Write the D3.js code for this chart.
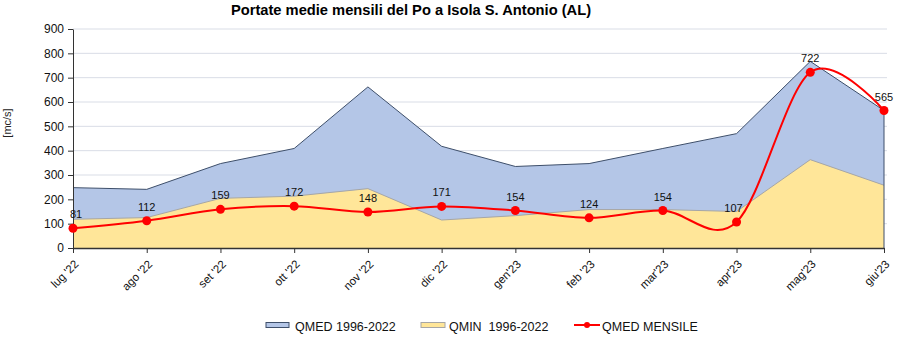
<!DOCTYPE html>
<html>
<head>
<meta charset="utf-8">
<script src="https://cdn.jsdelivr.net/npm/d3@7"></script>
<style>
  body { margin: 0; background: #fff; }
  svg { display: block; font-family: "Liberation Sans", Arial, sans-serif; }
</style>
</head>
<body>
<svg id="chart" width="903" height="339"></svg>
<script>
// monthly discharge, Po at Isola S. Antonio
const months = ["lug '22", "ago '22", "set '22", "ott '22", "nov '22", "dic '22",
                "gen'23", "feb '23", "mar'23", "apr'23", "mag'23", "giu'23"];
const qmed = [248, 241, 347, 409, 662, 418, 335, 347, 409, 470, 767, 565];
const qmin = [118, 125, 204, 213, 244, 115, 133, 158, 158, 150, 363, 258];
const qmedMensile = [81, 112, 159, 172, 148, 171, 154, 124, 154, 107, 722, 565];
const yTicks = [0, 100, 200, 300, 400, 500, 600, 700, 800, 900];

const svg = d3.select("#chart");
const margin = { left: 73, right: 19, top: 29, bottom: 91 };
const W = 903, H = 339;

const x = d3.scalePoint().domain(months).range([margin.left, W - margin.right]);
const y = d3.scaleLinear().domain([0, 900]).range([H - margin.bottom, margin.top]);

// gridlines
svg.append("g")
  .selectAll("line")
  .data(yTicks.slice(1))
  .enter().append("line")
  .attr("x1", margin.left).attr("x2", W - margin.right + 3)
  .attr("y1", d => y(d)).attr("y2", d => y(d))
  .attr("stroke", "#d9dde6").attr("stroke-width", 1);

const area = d3.area()
  .x((d, i) => x(months[i]))
  .y0(y(0))
  .y1(d => y(d));
const edge = d3.line().x((d, i) => x(months[i])).y(d => y(d));

svg.append("path")
  .datum(qmed)
  .attr("d", area)
  .attr("fill", "#b4c6e7");
svg.append("path")
  .datum(qmed)
  .attr("d", edge)
  .attr("fill", "none").attr("stroke", "#3e4f6a").attr("stroke-width", 1);

svg.append("path")
  .datum(qmin)
  .attr("d", area)
  .attr("fill", "#ffe699");
svg.append("path")
  .datum(qmin)
  .attr("d", edge)
  .attr("fill", "none").attr("stroke", "#a6a6a6").attr("stroke-width", 1);

// right edge of the areas
svg.append("line")
  .attr("x1", x(months[11])).attr("x2", x(months[11]))
  .attr("y1", y(0)).attr("y2", y(qmed[11]))
  .attr("stroke", "#3e4f6a").attr("stroke-width", 1);

// axes
const yAxis = svg.append("g")
  .attr("transform", `translate(${margin.left},0)`)
  .call(d3.axisLeft(y).tickValues(yTicks).tickSize(5).tickSizeOuter(0).tickPadding(4));
yAxis.select(".domain").attr("stroke", "#333");
yAxis.selectAll(".tick line").attr("stroke", "#333");
yAxis.selectAll("text").attr("font-size", 12).attr("fill", "#111")
  .attr("font-family", "'Liberation Sans', Arial, sans-serif");

const xAxis = svg.append("g")
  .attr("transform", `translate(0,${y(0)})`)
  .call(d3.axisBottom(x).tickSize(5).tickSizeOuter(0));
xAxis.select(".domain").attr("stroke", "#333").attr("stroke-width", 1.5);
xAxis.selectAll(".tick line").attr("stroke", "#333");
xAxis.selectAll("text")
  .attr("font-size", 11.5).attr("fill", "#111")
  .attr("font-family", "'Liberation Sans', Arial, sans-serif")
  .attr("text-anchor", "end")
  .attr("x", 0).attr("y", 0)
  .attr("dy", "0.35em")
  .attr("transform", "translate(3,14) rotate(-45)");

// QMED MENSILE smoothed line
svg.append("path")
  .datum(qmedMensile)
  .attr("d", d3.line().x((d, i) => x(months[i])).y(d => y(d)).curve(d3.curveCardinal.tension(0)))
  .attr("fill", "none").attr("stroke", "#f00").attr("stroke-width", 2);

svg.selectAll(".dot")
  .data(qmedMensile)
  .enter().append("circle")
  .attr("class", "dot")
  .attr("cx", (d, i) => x(months[i]))
  .attr("cy", d => y(d))
  .attr("r", 4.5)
  .attr("fill", "#f00");

svg.selectAll(".val")
  .data(qmedMensile)
  .enter().append("text")
  .attr("class", "val")
  .attr("x", (d, i) => x(months[i]) + (i === 0 ? 3 : i === 9 ? -3 : 0))
  .attr("y", d => y(d) - 10)
  .attr("text-anchor", "middle")
  .attr("font-size", 11)
  .attr("fill", "#111")
  .text(d => d);

// title
svg.append("text")
  .attr("x", 411).attr("y", 15)
  .attr("text-anchor", "middle")
  .attr("font-size", 14.7).attr("font-weight", "bold")
  .text("Portate medie mensili del Po a Isola S. Antonio (AL)");

// y axis title
svg.append("text")
  .attr("transform", "translate(11,123) rotate(-90)")
  .attr("text-anchor", "middle")
  .attr("font-size", 11).attr("fill", "#222")
  .text("[mc/s]");

// legend
const legend = svg.append("g")
  .attr("font-size", 12.5).attr("fill", "#111");
const ly = 325;
legend.append("rect").attr("x", 266).attr("y", ly - 2.5).attr("width", 23).attr("height", 5)
  .attr("fill", "#b4c6e7").attr("stroke", "#3e4f6a");
legend.append("text").attr("x", 295).attr("y", ly + 6).text("QMED 1996-2022");
legend.append("rect").attr("x", 421).attr("y", ly - 2.5).attr("width", 24).attr("height", 5)
  .attr("fill", "#ffe699").attr("stroke", "#a6a6a6");
legend.append("text").attr("x", 449).attr("y", ly + 6).attr("xml:space", "preserve").text("QMIN  1996-2022");
legend.append("line").attr("x1", 574).attr("x2", 600).attr("y1", ly).attr("y2", ly)
  .attr("stroke", "#f00").attr("stroke-width", 2);
legend.append("circle").attr("cx", 587).attr("cy", ly).attr("r", 3).attr("fill", "#f00");
legend.append("text").attr("x", 602).attr("y", ly + 6).text("QMED MENSILE");
</script>
</body>
</html>
